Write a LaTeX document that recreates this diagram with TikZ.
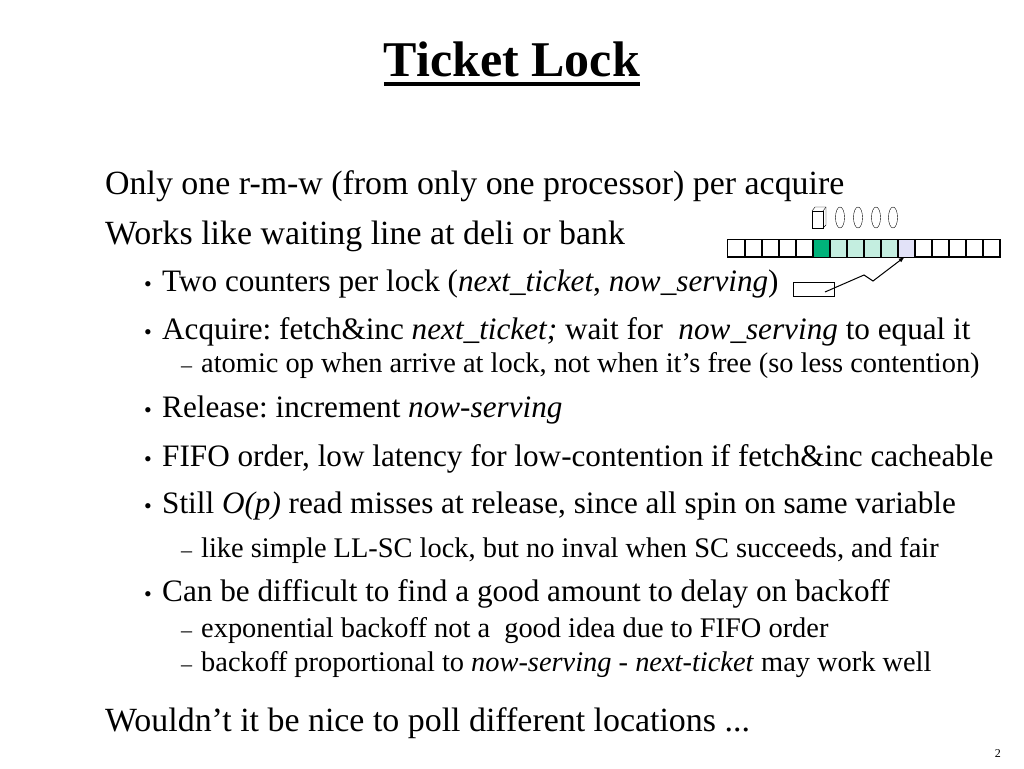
\documentclass[tikz,border=0pt]{standalone}
\usepackage{fontspec}
\setmainfont{Liberation Serif}
\usepackage{tikz}
\usetikzlibrary{positioning}

\tikzset{
  lvlone/.style={anchor=base west, inner sep=0pt, font=\fontsize{33.9}{38}\selectfont},
  lvltwo/.style={anchor=base west, inner sep=0pt, font=\fontsize{31.2}{35}\selectfont},
  lvlthree/.style={anchor=base west, inner sep=0pt, font=\fontsize{28.4}{32}\selectfont},
  cell/.style={draw, line width=1pt, minimum width=17pt, minimum height=17pt, inner sep=0pt, anchor=north west},
}
\definecolor{takengreen}{RGB}{0,178,122}
\definecolor{waitgreen}{RGB}{196,238,224}
\definecolor{servelav}{RGB}{226,226,248}

\begin{document}
\frenchspacing
\begin{tikzpicture}[x=1pt, y=-1pt]
	\useasboundingbox (0,0) rectangle (1024,768);

	% title
	\node[anchor=base, inner sep=0pt, font=\fontsize{50}{56}\selectfont\bfseries] (title) at (512,77) {Ticket Lock};
	\draw[line width=3.5pt] (title.base west) ++(0,7) -- ([yshift=-7pt]title.base east);

	% text
	\node[lvlone] (only) at (105,194) {Only one r-m-w (from only one processor) per acquire};
	\node[lvlone] (works) at (105,244) {Works like waiting line at deli or bank};

	\foreach \y in {291,339,417,466,513,601}
	{
	    \node[lvltwo, font=\fontsize{22}{26}\selectfont] at (144,\y) {•};
	}
	\foreach \y in {372,557,637,671}
	{
	    \node[lvlthree, font=\fontsize{22}{26}\selectfont] at (181,\y) {–};
	}
	\node[lvltwo] (two) at (162,291) {Two counters per lock (\textit{next\_ticket}, \textit{now\_serving})};
	\node[lvltwo] (acq) at (162,339) {Acquire: fetch\&inc \textit{next\_ticket;} wait for\ \ \textit{now\_serving} to equal it};
	\node[lvlthree] (atomic) at (201,372) {atomic op when arrive at lock, not when it’s free (so less contention)};
	\node[lvltwo] (rel) at (162,417) {Release: increment \textit{now-serving}};
	\node[lvltwo] (fifo) at (162,466) {FIFO order, low latency for low-contention if fetch\&inc cacheable};
	\node[lvltwo] (still) at (162,513) {Still \textit{O(p)} read misses at release, since all spin on same variable};
	\node[lvlthree] (llsc) at (201,557) {like simple LL-SC lock, but no inval when SC succeeds, and fair};
	\node[lvltwo] (diff) at (162,601) {Can be difficult to find a good amount to delay on backoff};
	\node[lvlthree] (expo) at (201,637) {exponential backoff not a\ \ good idea due to FIFO order};
	\node[lvlthree] (prop) at (201,671) {backoff proportional to \textit{now-serving} - \textit{next-ticket} may work well};
	\node[lvlone] (poll) at (105,731) {Wouldn’t it be nice to poll different locations ...};
	\node[anchor=base east, inner sep=0pt, font=\fontsize{12}{14}\selectfont] (page) at (1001,757) {2};

	% ticket queue
	\foreach \x in {1,...,16}
	{
	    \node[cell] (c\x) at (727 + 17*\x - 17, 239) {};
	}
	\fill[takengreen] (c6.north west) rectangle (c6.south east);
	\foreach \x in {7,...,10}
	{
	    \fill[waitgreen] (c\x.north west) rectangle (c\x.south east);
	}
	\fill[servelav] (c11.north west) rectangle (c11.south east);
	\foreach \x in {1,...,16}
	{
	    \draw[line width=1pt] (c\x.north west) rectangle (c\x.south east);
	}

	% processors: one holder, four waiters
	\fill[white] (812,211) -- (815,207) -- (826,207) -- (826,225) -- (823,228) -- (812,228) -- cycle;
	\draw (812,211) rectangle (823,228);
	\draw (812,211) -- (815,207) -- (826,207) -- (826,225) -- (823,228);
	\draw (823,211) -- (826,207);
	\foreach \x in {840,858,876,893}
	{
	    \draw (\x,217.5) ellipse (4.5 and 10.5);
	}

	% now_serving counter
	\node[draw, line width=1pt, minimum width=41pt, minimum height=14pt, inner sep=0pt] (serve) at (813.5,289) {};
	\coordinate (tail) at (825,292);
	\draw[line width=1pt, -latex] (tail) -- (864,275) -- (873,281) -- ([xshift=-1.5pt]c11.south);
\end{tikzpicture}
\end{document}
